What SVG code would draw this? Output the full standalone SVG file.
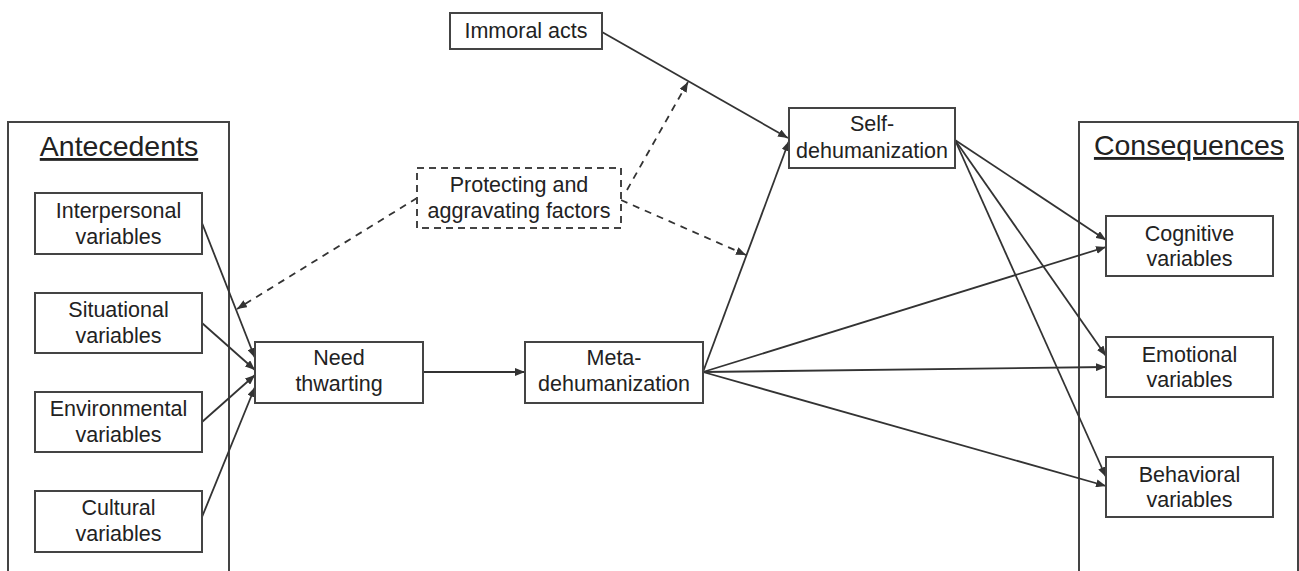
<svg xmlns="http://www.w3.org/2000/svg" width="1299" height="571" viewBox="0 0 1299 571">
<style>
text{font-family:"Liberation Sans",Arial,sans-serif;fill:#222;text-anchor:middle}
.t{font-size:21.5px}
.h{font-size:28.5px;text-decoration:underline}
.box{fill:#fff;stroke:#444;stroke-width:2}
.dbox{fill:#fff;stroke:#444;stroke-width:2;stroke-dasharray:7 5}
.cont{fill:none;stroke:#444;stroke-width:2}
.c{fill:none;stroke:#333;stroke-width:1.8;marker-end:url(#ah)}
.d{fill:none;stroke:#333;stroke-width:1.8;stroke-dasharray:7 6;marker-end:url(#ah)}
</style>
<defs>
<marker id="ah" viewBox="0 0 10 8" refX="10" refY="4" markerWidth="10" markerHeight="8" markerUnits="userSpaceOnUse" orient="auto">
<path d="M0,0 L10,4 L0,8 z" fill="#333"/>
</marker>
</defs>
<rect width="1299" height="571" fill="#fff"/>
<g id="antecedents">
<rect class="cont" x="8" y="122" width="221" height="460"/>
<text class="h" x="119" y="156">Antecedents</text>
</g>
<g id="consequences">
<rect class="cont" x="1079" y="122" width="219" height="460"/>
<text class="h" x="1189" y="155">Consequences</text>
</g>
<g id="connectors">
<line class="c" x1="202" y1="223" x2="255" y2="358"/>
<line class="c" x1="202" y1="323" x2="255" y2="370"/>
<line class="c" x1="202" y1="422" x2="255" y2="375"/>
<line class="c" x1="202" y1="517" x2="255" y2="387"/>
<line class="c" x1="423" y1="372" x2="525" y2="372"/>
<line class="c" x1="602" y1="32" x2="788" y2="138"/>
<line class="c" x1="703" y1="372" x2="789" y2="141"/>
<line class="c" x1="703" y1="372" x2="1106" y2="247"/>
<line class="c" x1="703" y1="372" x2="1106" y2="367"/>
<line class="c" x1="703" y1="372" x2="1106" y2="486"/>
<line class="c" x1="955" y1="140" x2="1106" y2="240"/>
<line class="c" x1="955" y1="140" x2="1106" y2="356"/>
<line class="c" x1="955" y1="140" x2="1106" y2="477"/>
<line class="d" x1="417" y1="198" x2="237" y2="309"/>
<line class="d" x1="627" y1="190" x2="688" y2="82"/>
<line class="d" x1="621" y1="200" x2="746" y2="255"/>
</g>
<g id="interpersonal">
<rect class="box" x="35" y="193" width="167" height="61"/>
<text class="t" x="118.5" y="218">Interpersonal</text>
<text class="t" x="118.5" y="244">variables</text>
</g>
<g id="situational">
<rect class="box" x="35" y="293" width="167" height="60"/>
<text class="t" x="118.5" y="317">Situational</text>
<text class="t" x="118.5" y="343">variables</text>
</g>
<g id="environmental">
<rect class="box" x="35" y="392" width="167" height="60"/>
<text class="t" x="118.5" y="416">Environmental</text>
<text class="t" x="118.5" y="442">variables</text>
</g>
<g id="cultural">
<rect class="box" x="35" y="491" width="167" height="61"/>
<text class="t" x="118.5" y="515">Cultural</text>
<text class="t" x="118.5" y="541">variables</text>
</g>
<g id="need-thwarting">
<rect class="box" x="255" y="342" width="168" height="61"/>
<text class="t" x="339" y="365">Need</text>
<text class="t" x="339" y="391">thwarting</text>
</g>
<g id="meta-dehumanization">
<rect class="box" x="525" y="342" width="178" height="61"/>
<text class="t" x="614" y="365">Meta-</text>
<text class="t" x="614" y="391">dehumanization</text>
</g>
<g id="immoral-acts">
<rect class="box" x="450" y="13" width="152" height="36"/>
<text class="t" x="526" y="38">Immoral acts</text>
</g>
<g id="protecting">
<rect class="dbox" x="417" y="168" width="204" height="60"/>
<text class="t" x="519" y="192">Protecting and</text>
<text class="t" x="519" y="218">aggravating factors</text>
</g>
<g id="self-dehumanization">
<rect class="box" x="789" y="108" width="166" height="60"/>
<text class="t" x="872" y="131">Self-</text>
<text class="t" x="872" y="158">dehumanization</text>
</g>
<g id="cognitive">
<rect class="box" x="1106" y="216" width="167" height="60"/>
<text class="t" x="1189.5" y="241">Cognitive</text>
<text class="t" x="1189.5" y="266">variables</text>
</g>
<g id="emotional">
<rect class="box" x="1106" y="337" width="167" height="60"/>
<text class="t" x="1189.5" y="362">Emotional</text>
<text class="t" x="1189.5" y="387">variables</text>
</g>
<g id="behavioral">
<rect class="box" x="1106" y="457" width="167" height="60"/>
<text class="t" x="1189.5" y="482">Behavioral</text>
<text class="t" x="1189.5" y="507">variables</text>
</g>
</svg>
